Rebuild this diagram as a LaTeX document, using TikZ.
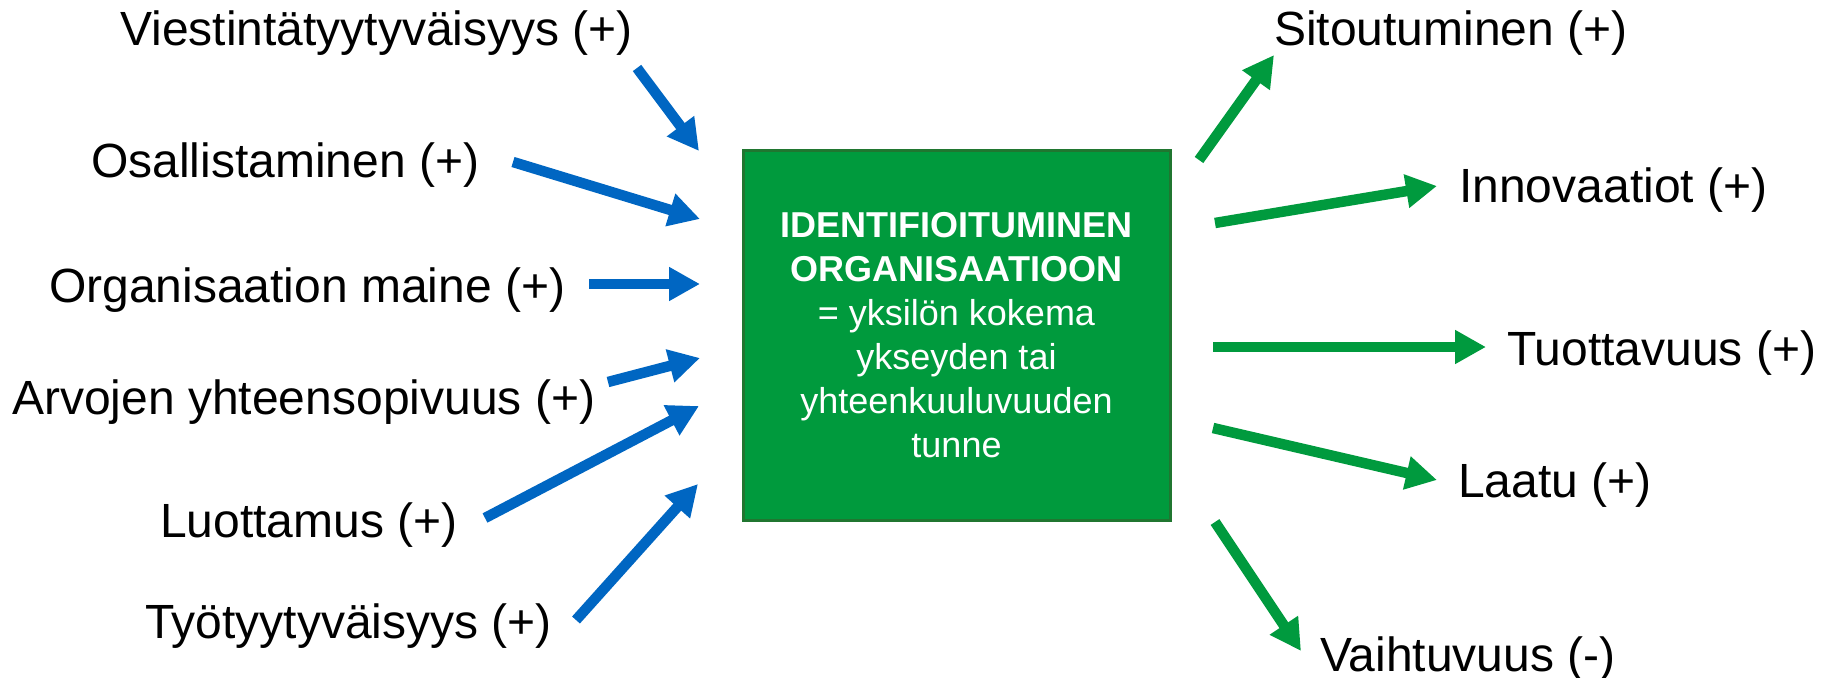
\documentclass[tikz,border=0pt]{standalone}
\usepackage{fontspec}
\setmainfont{Liberation Sans}
\usetikzlibrary{arrows.meta}
\definecolor{inblue}{RGB}{0,102,194}
\definecolor{outgreen}{RGB}{0,154,62}
\definecolor{boxgreen}{RGB}{0,154,61}
\definecolor{boxedge}{RGB}{32,118,48}
\tikzset{
  lab/.style={anchor=base west,inner sep=0pt,font=\fontsize{48}{56}\selectfont,text=black},
  inarrow/.style={draw=inblue,line width=10.5pt,-{Triangle[length=31pt,width=32pt]}},
  outarrow/.style={draw=outgreen,line width=10.5pt,-{Triangle[length=31pt,width=32pt]}},
  centerbox/.style={draw=boxedge,line width=3pt,fill=boxgreen,text=white,align=center,
    minimum width=427pt,minimum height=370pt,inner sep=0pt,font=\fontsize{36}{44}\selectfont}
}
\begin{document}
\begin{tikzpicture}[x=1pt,y=-1pt]
\useasboundingbox (0,0) rectangle (1835,677);
% central box
\node[centerbox] (box) at (956.5,335) {\textbf{IDENTIFIOITUMINEN}\\\textbf{ORGANISAATIOON}\\= yksilön kokema\\ykseyden tai\\yhteenkuuluvuuden\\tunne};
% left labels
\node[lab] (l1) at (120,46) {Viestintätyytyväisyys (+)};
\node[lab] (l2) at (91,177) {Osallistaminen (+)};
\node[lab] (l3) at (49,302) {Organisaation maine (+)};
\node[lab] (l4) at (12,414) {Arvojen yhteensopivuus (+)};
\node[lab] (l5) at (160,537) {Luottamus (+)};
\node[lab] (l6) at (145,638) {Työtyytyväisyys (+)};
% right labels
\node[lab] (r1) at (1274,46) {Sitoutuminen (+)};
\node[lab] (r2) at (1459,202) {Innovaatiot (+)};
\node[lab] (r3) at (1507,365) {Tuottavuus (+)};
\node[lab] (r4) at (1458,497) {Laatu (+)};
\node[lab] (r5) at (1320,671) {Vaihtuvuus (-)};
% arrow end points
\coordinate (a1s) at (637,68);  \coordinate (a1e) at (699,151);
\coordinate (a2s) at (513,162); \coordinate (a2e) at (700,219);
\coordinate (a3s) at (589,284); \coordinate (a3e) at (700,284);
\coordinate (a4s) at (608,382); \coordinate (a4e) at (700,358);
\coordinate (a5s) at (485,518); \coordinate (a5e) at (699,406);
\coordinate (a6s) at (576,620); \coordinate (a6e) at (698,484);
\coordinate (b1s) at (1199,160); \coordinate (b1e) at (1274,55);
\coordinate (b2s) at (1215,223); \coordinate (b2e) at (1437,186);
\coordinate (b3s) at (1213,347); \coordinate (b3e) at (1486,347);
\coordinate (b4s) at (1213,428); \coordinate (b4e) at (1437,480);
\coordinate (b5s) at (1215,522); \coordinate (b5e) at (1301,651);
% incoming arrows
\draw[inarrow] (a1s) -- (a1e);
\draw[inarrow] (a2s) -- (a2e);
\draw[inarrow] (a3s) -- (a3e);
\draw[inarrow] (a4s) -- (a4e);
\draw[inarrow] (a5s) -- (a5e);
\draw[inarrow] (a6s) -- (a6e);
% outgoing arrows
\draw[outarrow] (b1s) -- (b1e);
\draw[outarrow] (b2s) -- (b2e);
\draw[outarrow] (b3s) -- (b3e);
\draw[outarrow] (b4s) -- (b4e);
\draw[outarrow] (b5s) -- (b5e);
\end{tikzpicture}
\end{document}
